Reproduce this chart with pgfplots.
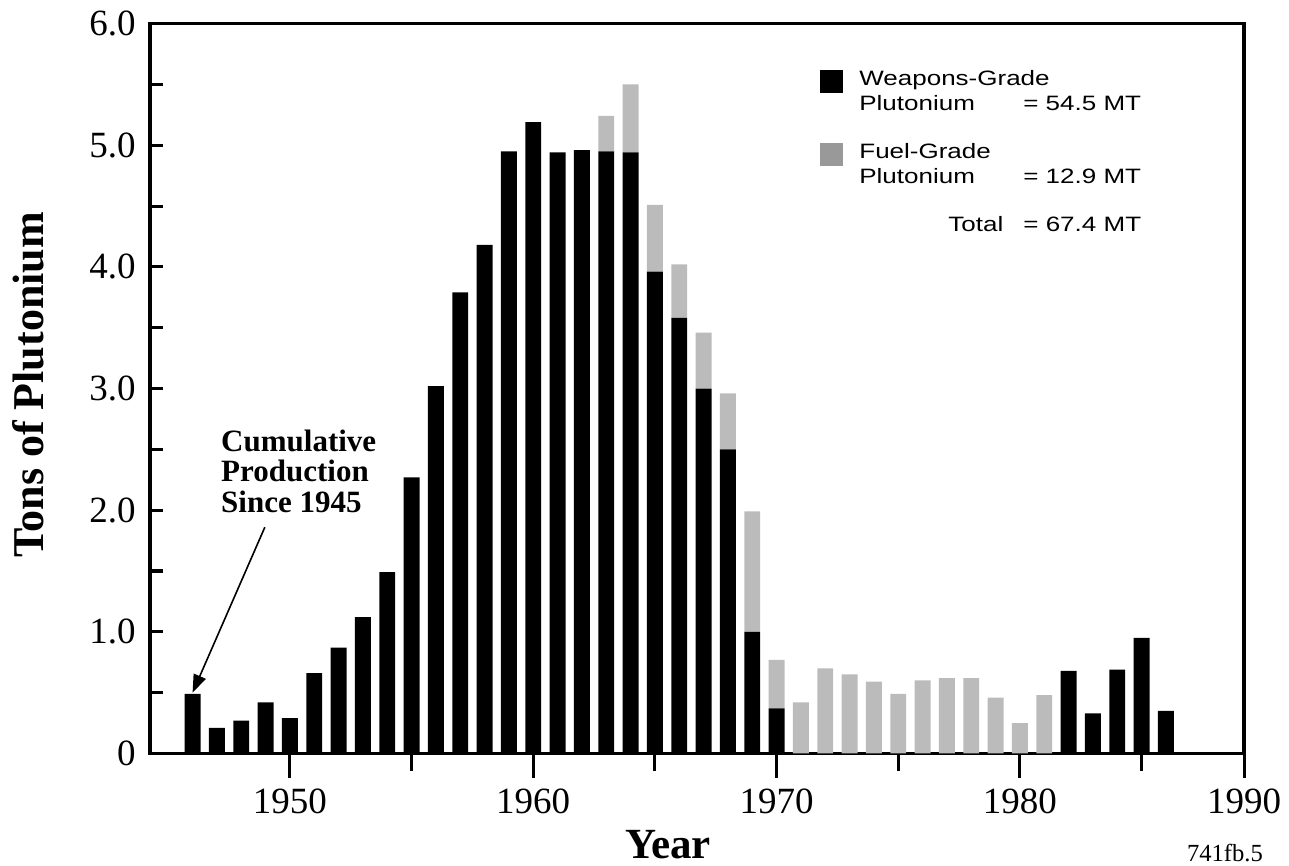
\documentclass[border=0pt]{standalone}
\usepackage{fontspec}
\setmainfont{Liberation Serif}
\newfontfamily\legendfont[FakeStretch=1.25]{Liberation Sans}
\usepackage{pgfplots}
\usepackage{pgfplotstable}
\pgfplotsset{compat=1.18}
\usetikzlibrary{arrows.meta}
\definecolor{fgrade}{RGB}{187,187,187}
\definecolor{fgradeleg}{RGB}{153,153,153}

\pgfplotstableread{
year w f
1946 0.49 0
1947 0.21 0
1948 0.27 0
1949 0.42 0
1950 0.29 0
1951 0.66 0
1952 0.87 0
1953 1.12 0
1954 1.49 0
1955 2.27 0
1956 3.02 0
1957 3.79 0
1958 4.18 0
1959 4.95 0
1960 5.19 0
1961 4.94 0
1962 4.96 0
1963 4.95 0.29
1964 4.94 0.56
1965 3.96 0.55
1966 3.58 0.44
1967 3.00 0.46
1968 2.50 0.46
1969 1.00 0.99
1970 0.37 0.40
1971 0 0.42
1972 0 0.70
1973 0 0.65
1974 0 0.59
1975 0 0.49
1976 0 0.60
1977 0 0.62
1978 0 0.62
1979 0 0.46
1980 0 0.25
1981 0 0.48
1982 0.68 0
1983 0.33 0
1984 0.69 0
1985 0.95 0
1986 0.35 0
}\datatable

\begin{document}
\begin{tikzpicture}
\useasboundingbox (-75pt,-56.25pt) rectangle (569.5pt,376.75pt);
\begin{axis}[
  at={(0pt,0pt)}, anchor=south west,
  scale only axis, width=547pt, height=365pt,
  xmin=1944.25, xmax=1989.21, ymin=0, ymax=6,
  clip=false,
  axis line style={line width=1.6pt},
  ybar stacked, bar width=0.656,
  ytick={0,1,2,3,4,5,6},
  yticklabels={0,1.0,2.0,3.0,4.0,5.0,6.0},
  minor ytick={0.5,1.5,2.5,3.5,4.5,5.5},
  ytick pos=left,
  xtick={1950,1960,1970,1980,1989.21},
  xticklabels={1950,1960,1970,1980,1990},
  xtick pos=bottom,
  tick align=inside, major tick length=6.5pt, minor tick length=6.5pt,
  tick style={black, line width=1.5pt},
  every major x tick/.append style={draw=none},
  every x tick/.append style={draw=none},
  /pgf/number format/assume math mode=true,
  tick label style={font=\fontsize{18.5}{20}\selectfont},
  xticklabel style={anchor=base, yshift=-29.75pt},
  yticklabel style={anchor=east, inner sep=0pt, xshift=-7pt},
  xlabel={Year},
  xlabel style={at={(rel axis cs:0.4735,0)}, anchor=base, yshift=-52.5pt, font=\bfseries\fontsize{21.5}{24}\selectfont},
  ylabel={Tons of Plutonium},
  ylabel style={at={([xshift=-61pt]rel axis cs:0,0.505)}, anchor=center, font=\bfseries\fontsize{22}{24}\selectfont},
  legend style={at={(0.6124,0.9377)}, anchor=north west, draw=none, fill=none,
    inner sep=0pt, row sep=0pt, column sep=8pt,
    font=\legendfont\fontsize{10.4}{12.5}\selectfont,
    nodes={inner sep=0pt, text height=8pt, text depth=28.5pt}},
  legend cell align=left,
]
\addplot[fill=black, draw=none,
  legend image code/.code={\fill[black] (0pt,6.5pt) rectangle (11.5pt,18pt);}]
  table[x=year, y=w] {\datatable};
\addlegendentry{\begin{tabular}[t]{@{}l@{}}Weapons-Grade\\\makebox[82pt][l]{Plutonium}= 54.5 MT\end{tabular}}
\addplot[fill=fgrade, draw=none,
  legend image code/.code={\fill[fgradeleg] (0pt,6.5pt) rectangle (11.5pt,18pt);}]
  table[x=year, y=f] {\datatable};
\addlegendentry{\begin{tabular}[t]{@{}l@{}}Fuel-Grade\\\makebox[82pt][l]{Plutonium}= 12.9 MT\end{tabular}}
\addlegendimage{empty legend}
\addlegendentry{\makebox[82pt][r]{Total\hspace{10pt}}= 67.4 MT}

% x-axis tick marks (outside)
\draw[line width=1.5pt] (axis cs:1950,0) -- ++(0pt,-12.5pt);
\draw[line width=1.5pt] (axis cs:1960,0) -- ++(0pt,-12.5pt);
\draw[line width=1.5pt] (axis cs:1970,0) -- ++(0pt,-12.5pt);
\draw[line width=1.5pt] (axis cs:1980,0) -- ++(0pt,-12.5pt);
\draw[line width=1.5pt] (axis cs:1989.21,0) -- ++(0pt,-12.5pt);
\draw[line width=1.5pt] (axis cs:1955,0) -- ++(0pt,-9pt);
\draw[line width=1.5pt] (axis cs:1965,0) -- ++(0pt,-9pt);
\draw[line width=1.5pt] (axis cs:1975,0) -- ++(0pt,-9pt);
\draw[line width=1.5pt] (axis cs:1985,0) -- ++(0pt,-9pt);

% annotation
\node[anchor=base west, inner sep=0pt, font=\bfseries\fontsize{15.5}{14.5}\selectfont]
  at (axis cs:1947.16,2.48)
  {\begin{tabular}[t]{@{}l@{}}Cumulative\\Production\\Since 1945\end{tabular}};
\draw[line width=0.8pt, -{Triangle[length=9pt,width=6.5pt]}]
  (axis cs:1948.97,1.86) -- (axis cs:1946,0.5);

\node[anchor=base, inner sep=0pt, xshift=-9.5pt, yshift=-53.75pt,
  font=\fontsize{12.3}{14}\selectfont] at (rel axis cs:1,0) {741fb.5};
\end{axis}
\end{tikzpicture}
\end{document}
